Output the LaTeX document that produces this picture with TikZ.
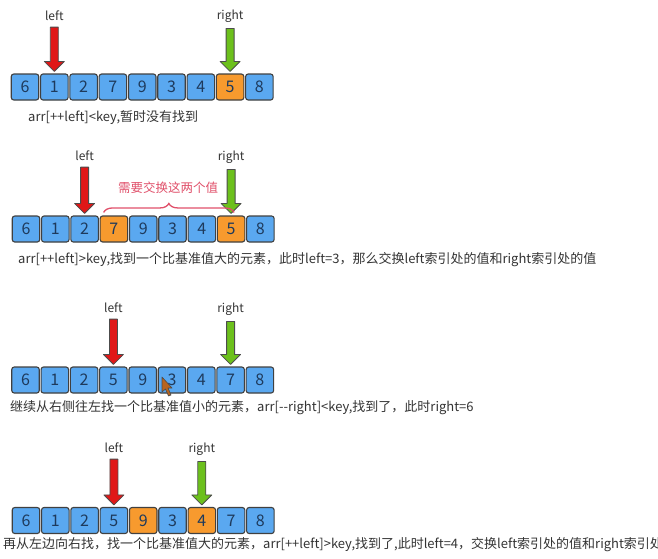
\documentclass[tikz,border=0pt]{standalone}
\usepackage{fontspec}
\setmainfont{Noto Sans CJK SC}
\usetikzlibrary{calc,decorations.pathreplacing}

\definecolor{cellblue}{HTML}{5AA8F0}
\definecolor{cellorange}{HTML}{F79A2E}
\definecolor{ptrred}{HTML}{E01818}
\definecolor{ptrgreen}{HTML}{6CC01C}
\definecolor{numink}{HTML}{1E3A5C}
\definecolor{txtgray}{HTML}{333333}
\definecolor{swapred}{HTML}{E0506A}
\definecolor{cursorbrown}{HTML}{B8641E}

\tikzset{
  cell/.style={draw=black!75, line width=1.1pt, rounded corners=2.5pt,
    minimum width=27.5pt, minimum height=26pt, inner sep=0pt,
    text=numink, font=\fontsize{16}{16}\selectfont},
  lbl/.style={text=txtgray, font=\fontsize{12}{12}\selectfont, inner sep=1pt},
  note/.style={anchor=west, text=txtgray, font=\fontsize{13}{14}\selectfont, inner sep=0pt},
  ptr/.style={draw=black!70, line width=0.8pt, line join=round},
}

% pointer arrow from a label down to a cell
\newcommand{\ptrarrow}[3]{%
  \draw[ptr, fill=#3] let \p1=(#1.south), \p2=(#2.north) in
    (\x2-4pt,\y1-5pt) -- (\x2+4pt,\y1-5pt) -- (\x2+4pt,\y2+12pt) -- (\x2+10pt,\y2+12pt)
    -- (\x2,\y2+2pt) -- (\x2-10pt,\y2+12pt) -- (\x2-4pt,\y2+12pt) -- cycle;}

\begin{document}
\begin{tikzpicture}[x=1pt,y=-1pt]
  \useasboundingbox (0,0) rectangle (658,558);

  % step 1
  \foreach \v/\c [count=\i from 0] in {6/blue,1/blue,2/blue,7/blue,9/blue,3/blue,4/blue,5/orange,8/blue}
    \node[cell, fill=cell\c] (a\i) at ({25+29.3*\i},87) {\v};
  \node[lbl] (la) at ($(a1)+(0,-71)$) {left};
  \node[lbl] (ra) at ($(a7)+(0,-71)$) {right};
  \ptrarrow{la}{a1}{ptrred}
  \ptrarrow{ra}{a7}{ptrgreen}
  \node[note] (na) at (28,118) {arr[++left]<key,暂时没有找到};

  % step 2
  \foreach \v/\c [count=\i from 0] in {6/blue,1/blue,2/blue,7/orange,9/blue,3/blue,4/blue,5/orange,8/blue}
    \node[cell, fill=cell\c] (b\i) at ({26+29.3*\i},229) {\v};
  \node[lbl] (lb) at ($(b2)+(0,-73)$) {left};
  \node[lbl] (rb) at ($(b7)+(0,-72)$) {right};
  \ptrarrow{lb}{b2}{ptrred}
  \ptrarrow{rb}{b7}{ptrgreen}
  \draw[decorate, decoration={brace, amplitude=9pt}, swapred, line width=1.3pt]
    ($(b3.north west)+(4,-3)$) -- ($(b7.north)+(3,-3)$);
  \node[text=swapred, font=\fontsize{12.5}{13}\selectfont] (swap) at (168,188) {需要交换这两个值};
  \node[note] (nb) at (18,260) {arr[++left]>key,找到一个比基准值大的元素，此时left=3，那么交换left索引处的值和right索引处的值};

  % step 3
  \foreach \v [count=\i from 0] in {6,1,2,5,9,3,4,7,8}
    \node[cell, fill=cellblue] (c\i) at ({25.5+29.3*\i},380) {\v};
  \node[lbl] (lc) at ($(c3)+(0,-72)$) {left};
  \node[lbl] (rc) at ($(c7)+(0,-71)$) {right};
  \ptrarrow{lc}{c3}{ptrred}
  \ptrarrow{rc}{c7}{ptrgreen}
  \draw[fill=cursorbrown, draw=black!70, line width=0.6pt, line join=round]
    (162,377) -- (162,392) -- (165.5,389) -- (168.5,396) -- (171,395) -- (168,388) -- (172,388) -- cycle;
  \node[note] (nc) at (10,408) {继续从右侧往左找一个比基准值小的元素，arr[-{}-right]<key,找到了，此时right=6};

  % step 4
  \foreach \v/\c [count=\i from 0] in {6/blue,1/blue,2/blue,5/blue,9/orange,3/blue,4/orange,7/blue,8/blue}
    \node[cell, fill=cell\c] (d\i) at ({26+29.3*\i},520.5) {\v};
  \node[lbl] (ld) at ($(d3)+(0,-72.5)$) {left};
  \node[lbl] (rd) at ($(d6)+(0,-71.5)$) {right};
  \ptrarrow{ld}{d3}{ptrred}
  \ptrarrow{rd}{d6}{ptrgreen}
  \node[note] (nd) at (3,545) {再从左边向右找，找一个比基准值大的元素，arr[++left]>key,找到了,此时left=4，交换left索引处的值和right索引处的值};
\end{tikzpicture}
\end{document}
